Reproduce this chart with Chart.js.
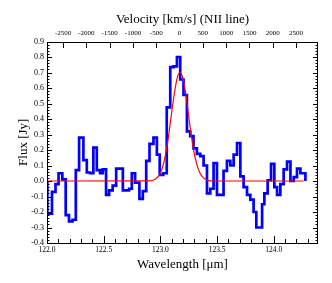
<!DOCTYPE html>
<html>
<head>
<meta charset="utf-8">
<script src="https://cdn.jsdelivr.net/npm/chart.js@4.4.1/dist/chart.umd.min.js"></script>
<style>
html,body{margin:0;padding:0;background:#fff}
#wrap{width:332px;height:283px}
</style>
</head>
<body>
<div id="wrap"><canvas id="chart"></canvas></div>
<script>
// spectrum: left edge of each bin [um] and flux [Jy]
const binStart=[122.003,122.044,122.075,122.102,122.135,122.165,122.194,122.225,122.254,122.283,
 122.321,122.351,122.380,122.409,122.439,122.468,122.492,122.521,122.548,122.579,
 122.610,122.639,122.669,122.698,122.724,122.748,122.777,122.815,122.845,122.875,
 122.904,122.939,122.969,122.994,123.025,123.056,123.087,123.116,123.146,123.175,
 123.204,123.234,123.263,123.292,123.322,123.352,123.381,123.411,123.440,123.469,
 123.499,123.528,123.557,123.587,123.617,123.646,123.676,123.705,123.734,123.764,
 123.793,123.822,123.846,123.873,123.897,123.917,123.946,123.976,124.005,124.029,
 124.058,124.087,124.117,124.147,124.176,124.205,124.235];
const binEnd=124.279;
const flux=[-0.21,-0.07,-0.02,0.05,0.01,-0.22,-0.26,-0.25,0.07,0.28,
 0.135,0.055,0.05,0.215,0.07,0.05,0.075,-0.09,-0.06,-0.03,
 0.08,0.08,-0.06,-0.06,-0.05,0.05,-0.01,-0.115,-0.065,0.13,
 0.24,0.28,0.17,0.04,0.05,0.475,0.735,0.74,0.80,0.655,
 0.555,0.32,0.29,0.21,0.175,0.16,0.10,-0.08,-0.05,0.115,
 -0.09,-0.09,0.065,0.13,0.10,0.17,0.245,0.03,-0.04,-0.09,
 -0.12,-0.20,-0.30,-0.30,-0.15,-0.08,0.005,0.11,-0.04,-0.09,
 -0.02,0.075,0.125,0.0,0.025,0.08,0.05];
// gaussian fit
const fitWave=[122.00,122.90,122.95,123.00,123.03,123.06,123.09,123.12,123.15,123.173,123.20,123.23,123.26,123.29,123.32,123.35,123.38,123.42,123.46,124.265];
const fitFlux=[0,0.001,0.01,0.05,0.12,0.23,0.39,0.55,0.67,0.70,0.66,0.53,0.36,0.21,0.11,0.05,0.02,0.004,0,0];
// axes
const waveTicks=[122.0,122.5,123.0,123.5,124.0];
const velTicks=[-2500,-2000,-1500,-1000,-500,0,500,1000,1500,2000,2500];
const fluxTicks=[-0.4,-0.3,-0.2,-0.1,0.0,0.1,0.2,0.3,0.4,0.5,0.6,0.7,0.8,0.9];
const X_MIN=122.0,X_MAX=124.39;
const LINE_CENTER=123.169, C_KMS=299792.458;
const vel=l=>(l-LINE_CENTER)/LINE_CENTER*C_KMS;

const serif="'Liberation Serif','Times New Roman',serif";
const spec=[{x:binStart[0],y:0}];
binStart.forEach((x,i)=>spec.push({x,y:flux[i]}));
spec.push({x:binEnd,y:flux[flux.length-1]},{x:binEnd,y:0});
const fit=fitWave.map((x,i)=>({x,y:fitFlux[i]}));

const frame={id:'frame',afterDraw(c){
 const {ctx,chartArea:a,scales:s}=c;
 ctx.save();
 ctx.strokeStyle='#000';ctx.lineWidth=1;
 ctx.strokeRect(Math.round(a.left)+.5,Math.round(a.top)+.5,Math.round(a.right-a.left)-1,Math.round(a.bottom-a.top)-1);
 ctx.beginPath();
 const b=Math.round(a.bottom),t=Math.round(a.top),l=Math.round(a.left),r=Math.round(a.right);
 for(let i=0;;i++){
  const v=X_MIN+i*0.1; if(v>X_MAX+1e-9)break;
  const px=Math.round(s.x.getPixelForValue(v))+.5, L=(i%5===0)?7:4;
  ctx.moveTo(px,b);ctx.lineTo(px,b-L);
 }
 velTicks.forEach(v=>{
  const px=Math.round(s.xv.getPixelForValue(v))+.5;
  ctx.moveTo(px,t);ctx.lineTo(px,t+6);
 });
 for(let i=0;i<=65;i++){
  const v=-0.4+i*0.02;
  const py=Math.round(s.y.getPixelForValue(v))+.5, L=(i%5===0)?5:2.5;
  ctx.moveTo(l,py);ctx.lineTo(l+L,py);
  ctx.moveTo(r,py);ctx.lineTo(r-L,py);
 }
 ctx.stroke();
 ctx.restore();
}};

new Chart(document.getElementById('chart'),{
 type:'scatter',
 data:{datasets:[
  {data:fit,showLine:true,borderColor:'#ff0000',borderWidth:1.2,pointRadius:0,cubicInterpolationMode:'monotone',order:0},
  {data:spec,showLine:true,stepped:'before',borderColor:'#0000ff',borderWidth:2.7,pointRadius:0,order:1}
 ]},
 options:{
  responsive:true,maintainAspectRatio:false,animation:false,devicePixelRatio:1,
  layout:{padding:{right:14}},
  plugins:{legend:{display:false},tooltip:{enabled:false}},
  scales:{
   x:{type:'linear',position:'bottom',min:X_MIN,max:X_MAX,
    grid:{display:false,drawTicks:false},border:{display:false},
    afterBuildTicks:s=>{s.ticks=waveTicks.map(v=>({value:v}));},
    afterFit:s=>{s.height=40;},
    ticks:{color:'#000',font:{family:serif,size:7.5},padding:3,maxRotation:0,callback:v=>v.toFixed(1)},
    title:{display:true,text:'Wavelength [μm]',color:'#000',font:{family:serif,size:13},padding:{top:0,bottom:11}}},
   xv:{type:'linear',position:'top',min:vel(X_MIN),max:vel(X_MAX),
    grid:{display:false,drawTicks:false},border:{display:false},
    afterBuildTicks:s=>{s.ticks=velTicks.map(v=>({value:v}));},
    afterFit:s=>{s.height=41.5;},
    ticks:{color:'#000',font:{family:serif,size:7},padding:4,maxRotation:0,callback:v=>String(v)},
    title:{display:true,text:'Velocity [km/s] (NII line)',color:'#000',font:{family:serif,size:13},padding:{top:12,bottom:0}}},
   y:{type:'linear',position:'left',min:-0.4,max:0.9,
    grid:{display:false,drawTicks:false},border:{display:false},
    afterBuildTicks:s=>{s.ticks=fluxTicks.map(v=>({value:v}));},
    afterFit:s=>{s.width=47;},
    ticks:{color:'#000',font:{family:serif,size:8},padding:3,callback:v=>v.toFixed(1)},
    title:{display:true,text:'Flux [Jy]',color:'#000',font:{family:serif,size:13},padding:{top:16,bottom:0}}}
  }
 },
 plugins:[frame]
});
</script>
</body>
</html>
